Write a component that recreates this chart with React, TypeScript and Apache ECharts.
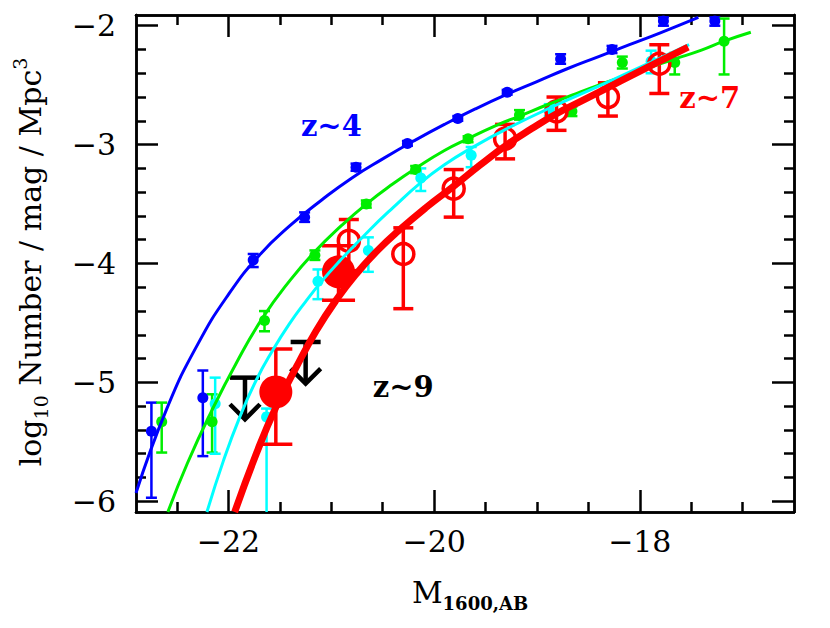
import React, { useEffect, useRef } from "react";
import * as echarts from "echarts";

// ---------- data ----------
// [M, logPhi, lowerErr, upperErr]
const pointsZ4 = [
  [-22.75, -5.41, -5.97, -5.17],
  [-22.25, -5.13, -5.62, -4.9],
  [-21.76, -3.97, -4.03, -3.92],
  [-21.26, -3.61, -3.65, -3.57],
  [-20.76, -3.19, -3.22, -3.16],
  [-20.26, -2.99, -3.01, -2.97],
  [-19.77, -2.78, -2.8, -2.76],
  [-19.29, -2.56, -2.58, -2.54],
  [-18.77, -2.28, -2.32, -2.24],
  [-18.27, -2.2, -2.23, -2.17],
  [-17.77, -1.96, -2.0, -1.93],
  [-17.27, -1.96, -2.0, -1.93],
];
const pointsZ5 = [
  [-22.65, -5.33, -5.59, -5.17],
  [-22.16, -5.33, -5.59, -5.1],
  [-21.65, -4.48, -4.57, -4.4],
  [-21.16, -3.93, -3.97, -3.89],
  [-20.66, -3.5, -3.53, -3.47],
  [-20.18, -3.21, -3.24, -3.18],
  [-19.67, -2.95, -2.98, -2.93],
  [-19.17, -2.75, -2.79, -2.71],
  [-18.66, -2.72, -2.76, -2.68],
  [-18.17, -2.31, -2.36, -2.26],
  [-17.66, -2.31, -2.41, -2.23],
  [-17.18, -2.13, -2.41, -1.94],
];
const pointsZ6 = [
  [-22.13, -5.18, -5.6, -4.96],
  [-21.63, -5.29, -6.5, -5.22],
  [-21.13, -4.15, -4.3, -4.05],
  [-20.64, -3.89, -4.07, -3.78],
  [-20.13, -3.28, -3.39, -3.2],
  [-19.64, -3.09, -3.19, -3.02],
  [-18.88, -2.71, -2.76, -2.66],
  [-17.89, -2.3, -2.4, -2.21],
];
const pointsZ7 = [
  [-20.83, -3.81, -4.06, -3.63],
  [-20.3, -3.92, -4.38, -3.7],
  [-19.81, -3.37, -3.61, -3.21],
  [-19.31, -2.95, -3.12, -2.83],
  [-18.81, -2.72, -2.88, -2.6],
  [-18.31, -2.6, -2.76, -2.48],
  [-17.81, -2.32, -2.57, -2.16],
];
const pointsZ8 = [
  [-21.54, -5.08, -5.52, -4.72],
  [-20.93, -4.07, -4.31, -3.85],
];
// [M, limit, arrow tip]
const limitsZ9 = [
  [-21.84, -4.96, -5.31],
  [-21.25, -4.66, -5.01],
];

// fitted curves
const curveZ4 = [
  [-22.9, -5.93], [-22.6, -5.22], [-22.3, -4.68], [-22.0, -4.26], [-21.7, -3.93],
  [-21.4, -3.68], [-21.1, -3.47], [-20.8, -3.28], [-20.5, -3.12], [-20.2, -2.97],
  [-19.9, -2.83], [-19.6, -2.7], [-19.3, -2.58], [-19.0, -2.47], [-18.7, -2.36],
  [-18.4, -2.26], [-18.1, -2.16], [-17.8, -2.06], [-17.43, -1.93],
];
const curveZ5 = [
  [-22.59, -6.09], [-22.4, -5.68], [-22.17, -5.25], [-21.92, -4.83], [-21.67, -4.46],
  [-21.4, -4.14], [-21.16, -3.9], [-20.9, -3.68], [-20.66, -3.5], [-20.4, -3.33],
  [-20.18, -3.2], [-19.9, -3.05], [-19.67, -2.95], [-19.4, -2.84], [-19.17, -2.76],
  [-18.9, -2.665], [-18.66, -2.585], [-18.4, -2.5], [-18.17, -2.43], [-17.9, -2.35],
  [-17.66, -2.28], [-17.4, -2.205], [-17.18, -2.13], [-16.92, -2.055],
];
const curveZ6 = [
  [-22.21, -6.09], [-22.05, -5.66], [-21.89, -5.29], [-21.73, -4.98], [-21.57, -4.73],
  [-21.41, -4.51], [-21.25, -4.32], [-21.085, -4.14], [-20.92, -3.98], [-20.63, -3.72],
  [-20.4, -3.53], [-20.13, -3.32], [-19.9, -3.17], [-19.64, -3.03], [-19.3, -2.87],
  [-18.82, -2.67], [-18.3, -2.47], [-17.9, -2.31], [-17.52, -2.16],
];
const curveZ7 = [
  [-21.94, -6.09], [-21.73, -5.6], [-21.54, -5.21], [-21.34, -4.87], [-21.15, -4.57],
  [-20.955, -4.31], [-20.76, -4.09], [-20.55, -3.89], [-20.34, -3.72], [-20.08, -3.53],
  [-19.81, -3.35], [-19.55, -3.17], [-19.29, -3.0], [-19.05, -2.865], [-18.81, -2.74],
  [-18.56, -2.63], [-18.31, -2.52], [-18.06, -2.41], [-17.81, -2.3], [-17.53, -2.18],
];

const annotations = [
  { text: "z~4", value: [-21.0, -2.84], color: "#0000ff" },
  { text: "z~7", value: [-17.32, -2.61], color: "#ff0000" },
  { text: "z~9", value: [-20.3, -5.04], color: "#000000" },
];

const xMajorTicks = [-22, -20, -18];
const xMinorTicks = [-22.5, -21.5, -21, -20.5, -19.5, -19, -18.5, -17.5, -17];
const yMajorTicks = [-6, -5, -4, -3, -2];
const yMinorTicks = [
  -5.8, -5.6, -5.4, -5.2, -4.8, -4.6, -4.4, -4.2, -3.8, -3.6, -3.4, -3.2,
  -2.8, -2.6, -2.4, -2.2,
];

const X_MIN = -22.9;
const X_MAX = -16.5;
const Y_MIN = -6.09;
const Y_MAX = -1.91;

const FONT = "DejaVu Serif";
const fmt = (v: number) => (v < 0 ? "\u2212" + Math.abs(v) : String(v));

function makeAxis(kind: "x" | "y", pos: string, ticks: number[], len: number, labels: number[] | null) {
  return {
    type: "value",
    gridIndex: 0,
    position: pos,
    min: kind === "x" ? X_MIN : Y_MIN,
    max: kind === "x" ? X_MAX : Y_MAX,
    axisLine: { show: true, onZero: false, lineStyle: { color: "#000", width: 2.5 } },
    axisTick: {
      show: true,
      inside: true,
      length: len,
      customValues: ticks,
      lineStyle: { color: "#000", width: 2.5 },
    },
    axisLabel: labels
      ? {
          show: true,
          customValues: labels,
          formatter: fmt,
          fontFamily: FONT,
          fontSize: 30,
          color: "#000",
          margin: kind === "x" ? 14 : 20,
        }
      : { show: false },
    splitLine: { show: false },
  };
}

function errorBars(data: number[][], color: string, capHalf: number, width: number) {
  return {
    type: "custom",
    data,
    encode: { x: 0, y: 1 },
    silent: true,
    renderItem: (params: any, api: any) => {
      const x = api.value(0);
      const lo = api.value(2);
      const hi = api.value(3);
      const cs = params.coordSys;
      const top = api.coord([x, hi]);
      const bot = api.coord([x, lo]);
      const yTop = Math.max(top[1], cs.y);
      const yBot = Math.min(bot[1], cs.y + cs.height);
      const st = { stroke: color, lineWidth: width };
      const children: any[] = [
        { type: "line", shape: { x1: top[0], y1: yTop, x2: top[0], y2: yBot }, style: st },
      ];
      if (top[1] >= cs.y)
        children.push({ type: "line", shape: { x1: top[0] - capHalf, y1: top[1], x2: top[0] + capHalf, y2: top[1] }, style: st });
      if (bot[1] <= cs.y + cs.height)
        children.push({ type: "line", shape: { x1: bot[0] - capHalf, y1: bot[1], x2: bot[0] + capHalf, y2: bot[1] }, style: st });
      return { type: "group", children };
    },
  };
}

function points(data: number[][], color: string, size: number, open = false) {
  return {
    type: "scatter",
    data: data.map((d) => [d[0], d[1]]),
    symbol: "circle",
    symbolSize: size,
    silent: true,
    itemStyle: open
      ? { color: "rgba(0,0,0,0)", borderColor: color, borderWidth: 3.5, opacity: 1 }
      : { color, borderWidth: 0, opacity: 1 },
  };
}

function curve(data: number[][], color: string, width: number) {
  return {
    type: "line",
    data,
    showSymbol: false,
    smooth: 0.5,
    silent: true,
    lineStyle: { color, width },
  };
}

export default function App() {
  const ref = useRef<HTMLDivElement>(null);
  useEffect(() => {
    if (!ref.current) return;
    const chart = echarts.init(ref.current, null, { renderer: "svg" });
    chart.setOption({
      animation: false,
      backgroundColor: "#ffffff",
      grid: { left: 136, right: 36, top: 15, bottom: 116, containLabel: false },
      xAxis: [
        makeAxis("x", "bottom", xMajorTicks, 22, xMajorTicks),
        makeAxis("x", "bottom", xMinorTicks, 10, null),
        makeAxis("x", "top", xMajorTicks, 22, null),
        makeAxis("x", "top", xMinorTicks, 10, null),
      ],
      yAxis: [
        makeAxis("y", "left", yMajorTicks, 22, yMajorTicks),
        makeAxis("y", "left", yMinorTicks, 10, null),
        makeAxis("y", "right", yMajorTicks, 22, null),
        makeAxis("y", "right", yMinorTicks, 10, null),
      ],
      series: [
        curve(curveZ4, "#0000ff", 3),
        curve(curveZ5, "#00ee00", 3),
        curve(curveZ6, "#00ffff", 3),
        errorBars(pointsZ4, "#0000ff", 5.5, 2.5),
        points(pointsZ4, "#0000ff", 11),
        errorBars(pointsZ5, "#00ee00", 5.5, 2.5),
        points(pointsZ5, "#00ee00", 11),
        errorBars(pointsZ6, "#00ffff", 5.5, 2.5),
        points(pointsZ6, "#00ffff", 11),
        curve(curveZ7, "#ff0000", 7),
        errorBars(pointsZ7, "#ff0000", 10, 3.5),
        points(pointsZ7, "#ff0000", 21, true),
        errorBars(pointsZ8, "#ff0000", 16.5, 3.5),
        points(pointsZ8, "#ff0000", 33),
        {
          type: "custom",
          data: limitsZ9,
          encode: { x: 0, y: 1 },
          silent: true,
          renderItem: (params: any, api: any) => {
            const x = api.value(0);
            const p = api.coord([x, api.value(1)]);
            const t = api.coord([x, api.value(2)]);
            const st = { stroke: "#000", lineWidth: 4.5 };
            return {
              type: "group",
              children: [
                { type: "line", shape: { x1: p[0] - 15, y1: p[1], x2: p[0] + 15, y2: p[1] }, style: st },
                { type: "line", shape: { x1: p[0], y1: p[1], x2: t[0], y2: t[1] }, style: st },
                { type: "polyline", shape: { points: [[t[0] - 15, t[1] - 15], [t[0], t[1]], [t[0] + 15, t[1] - 15]] }, style: { ...st, fill: null } },
              ],
            };
          },
        },
        {
          type: "scatter",
          silent: true,
          symbolSize: 1,
          itemStyle: { color: "rgba(0,0,0,0)", opacity: 1 },
          data: annotations.map((a) => ({
            value: a.value,
            label: {
              show: true,
              position: "inside",
              formatter: a.text,
              color: a.color,
              fontFamily: FONT,
              fontWeight: "bold",
              fontSize: 29,
            },
          })),
        },
      ],
      graphic: [
        {
          type: "text",
          x: 30,
          y: 262,
          rotation: Math.PI / 2,
          style: {
            text: "{a|log}{b|10}{a| Number / mag / Mpc}{c|3}",
            align: "center",
            verticalAlign: "middle",
            fill: "#000",
            fontFamily: FONT,
            fontSize: 30,
            rich: {
              a: { fontFamily: FONT, fontSize: 30, lineHeight: 40, fill: "#000" },
              b: { fontFamily: FONT, fontSize: 19, lineHeight: 20, verticalAlign: "bottom", fill: "#000" },
              c: { fontFamily: FONT, fontSize: 19, lineHeight: 20, verticalAlign: "top", fill: "#000" },
            },
          },
        },
        {
          type: "text",
          x: 470,
          y: 592,
          style: {
            text: "{a|M}{b|1600,AB}",
            align: "center",
            verticalAlign: "middle",
            fill: "#000",
            fontFamily: FONT,
            fontSize: 30,
            rich: {
              a: { fontFamily: FONT, fontSize: 30, lineHeight: 40, fill: "#000" },
              b: { fontFamily: FONT, fontSize: 18, fontWeight: "bold", lineHeight: 20, verticalAlign: "bottom", fill: "#000" },
            },
          },
        },
      ],
    });
    return () => chart.dispose();
  }, []);
  return (
    <div
      ref={ref}
      style={{ position: "absolute", left: 0, top: 0, width: 830, height: 628, background: "#fff" }}
    />
  );
}
